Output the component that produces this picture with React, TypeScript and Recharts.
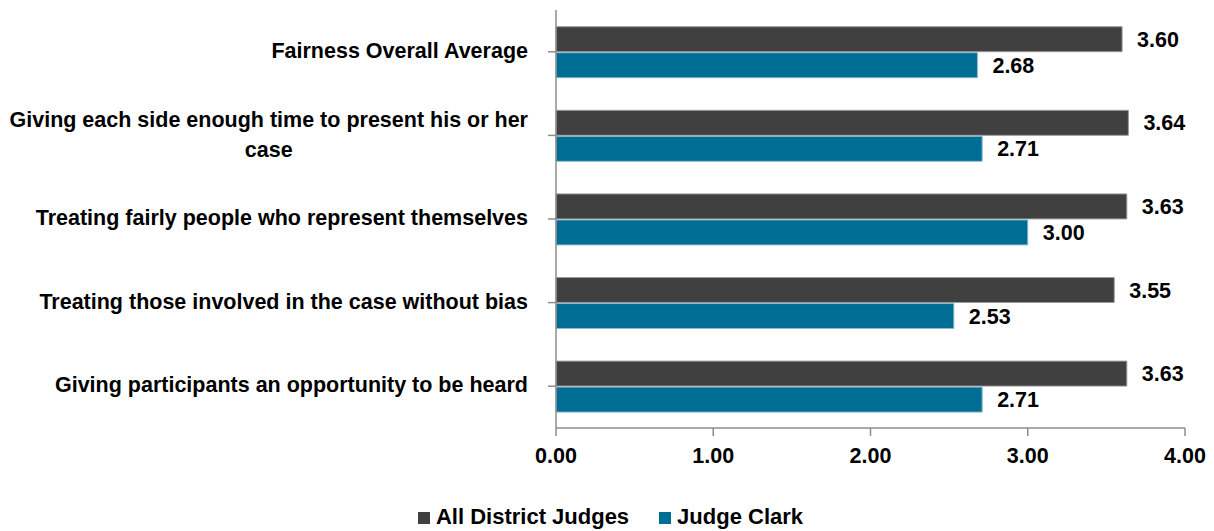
import React from 'react'
import {
  BarChart, Bar, XAxis, YAxis, Legend, LabelList,
} from 'recharts'

const categories = [
  'Fairness Overall Average',
  'Giving each side enough time to present his or her case',
  'Treating fairly people who represent themselves',
  'Treating those involved in the case without bias',
  'Giving participants an opportunity to be heard',
]
const allDistrictJudges = [3.6, 3.64, 3.63, 3.55, 3.63]
const judgeClark = [2.68, 2.71, 3.0, 2.53, 2.71]
const xTicks = [0, 1, 2, 3, 4]

const data = categories.map((name, i) => ({
  name,
  all: allDistrictJudges[i],
  clark: judgeClark[i],
}))

const FONT = '"Liberation Sans", Arial, sans-serif'
const FS = 21.5
const DARK = '#404040'
const TEAL = '#006e94'
const AXIS = '#8c8c8c'
const MAX_CHARS = 51

function wrap(text: string): string[] {
  const words = text.split(' ')
  const lines: string[] = []
  let cur = ''
  for (const w of words) {
    const next = cur ? cur + ' ' + w : w
    if (next.length > MAX_CHARS && cur) {
      lines.push(cur)
      cur = w
    } else cur = next
  }
  if (cur) lines.push(cur)
  return lines
}

let ctx: CanvasRenderingContext2D | null = null
function measure(text: string): number {
  if (!ctx) ctx = document.createElement('canvas').getContext('2d')
  if (!ctx) return text.length * 10
  ctx.font = `bold ${FS}px ${FONT}`
  return ctx.measureText(text).width
}

function CategoryTick(props: any) {
  const { x, y, payload } = props
  const lines = wrap(payload.value)
  const right = x - 18
  if (lines.length === 1) {
    return (
      <text x={right} y={y} dy={6} textAnchor="end" fontFamily={FONT} fontWeight="bold" fontSize={FS} fill="#000">
        {lines[0]}
      </text>
    )
  }
  const w = Math.max(...lines.map(measure))
  const cx = right - w / 2
  const lh = 30
  const startY = y - ((lines.length - 1) * lh) / 2
  return (
    <text textAnchor="middle" fontFamily={FONT} fontWeight="bold" fontSize={FS} fill="#000">
      {lines.map((l, i) => (
        <tspan key={i} x={cx} y={startY + i * lh} dy={7}>{l}</tspan>
      ))}
    </text>
  )
}

const fmt = (v: any) => Number(v).toFixed(2)
const labelStyle = { fontFamily: FONT, fontWeight: 'bold', fontSize: FS, fill: '#000' }

export default function App() {
  return (
    <BarChart
      width={1198}
      height={523}
      data={data}
      layout="vertical"
      margin={{ top: 2, right: 21, left: 0, bottom: 7 }}
      barCategoryGap="20%"
      barGap={1}
    >
      <XAxis
        type="number"
        domain={[0, 4]}
        ticks={xTicks}
        tickFormatter={fmt}
        stroke={AXIS}
        strokeWidth={1.5}
        tickSize={8}
        height={50}
        tick={{ fontFamily: FONT, fontWeight: 'bold', fontSize: FS, fill: '#000' }}
        tickMargin={12}
      />
      <YAxis
        type="category"
        dataKey="name"
        width={548}
        stroke={AXIS}
        strokeWidth={1.5}
        tickSize={8}
        tickLine={{ stroke: AXIS }}
        tick={<CategoryTick />}
        interval={0}
      />
      <Legend
        verticalAlign="bottom"
        align="center"
        iconType="square"
        iconSize={12}
        wrapperStyle={{
          fontFamily: FONT, fontWeight: 'bold', fontSize: 22, color: '#000',
          height: 46, boxSizing: 'border-box', paddingTop: 28, paddingLeft: 58, lineHeight: '22px',
        }}
        formatter={(v: string) => <span style={{ color: '#000', marginLeft: 2, marginRight: 20 }}>{v}</span>}
      />
      <Bar dataKey="all" name="All District Judges" fill={DARK} stroke="#9a9a9a" strokeWidth={1} isAnimationActive={false}>
        <LabelList dataKey="all" position="right" offset={15} formatter={fmt} style={labelStyle} />
      </Bar>
      <Bar dataKey="clark" name="Judge Clark" fill={TEAL} stroke="#8fb9cc" strokeWidth={1} isAnimationActive={false}>
        <LabelList dataKey="clark" position="right" offset={15} formatter={fmt} style={labelStyle} />
      </Bar>
    </BarChart>
  )
}
